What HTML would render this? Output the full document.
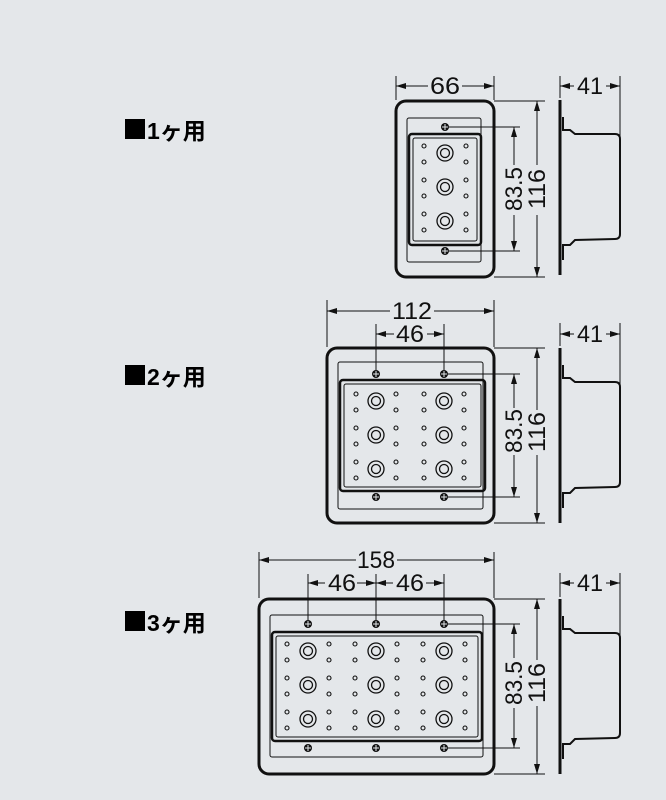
<!DOCTYPE html>
<html><head><meta charset="utf-8"><style>
html,body{margin:0;padding:0;background:#e4e7ea;}
svg{display:block}
.lbl{font-family:"Liberation Sans","Noto Sans CJK JP",sans-serif;font-weight:bold;font-size:23px;fill:#000}
.dim{font-family:"Liberation Sans",sans-serif;font-size:24px;fill:#111}
</style></head><body>
<svg width="666" height="800" viewBox="0 0 666 800" xmlns="http://www.w3.org/2000/svg">
<defs>
<marker id="a" viewBox="0 0 10 6" refX="10" refY="3" markerWidth="10" markerHeight="6" orient="auto-start-reverse" markerUnits="userSpaceOnUse"><path d="M0,0 L10,3 L0,6 z" fill="#111"/></marker>
<g id="boss"><circle r="8" fill="none" stroke="#111" stroke-width="1.3"/><circle r="4.5" fill="none" stroke="#111" stroke-width="1.3"/></g>
<g id="screw"><circle r="4" fill="#111"/><path d="M-3,0h6M0,-3v6" stroke="#e4e7ea" stroke-width="1"/></g>
<circle id="h" r="2" fill="none" stroke="#111" stroke-width="1.1"/>
<g id="hc"><use href="#h" x="0" y="-8"/><use href="#h" x="0" y="8"/></g>
<g id="col"><use href="#hc" y="0"/><use href="#hc" y="34"/><use href="#hc" y="68"/></g>
<g id="bosses"><use href="#boss" y="0"/><use href="#boss" y="34"/><use href="#boss" y="68"/></g>
<g id="side" fill="none" stroke="#111">
<line x1="560" y1="0" x2="560" y2="175" stroke-width="3"/>
<path d="M563,17 L563,30 L570,30 L575,34 L615,34 Q620,34 620,39 L620,134 Q620,139 615,139 L575,140 L570,145 L563,145 L563,160" stroke-width="2"/>
</g>
</defs>
<rect width="666" height="800" fill="#e4e7ea"/>

<rect x="125" y="119" width="20" height="20" fill="#000"/>
<text class="lbl" x="147" y="139">1ヶ用</text>
<rect x="125" y="365" width="20" height="20" fill="#000"/>
<text class="lbl" x="147" y="385">2ヶ用</text>
<rect x="125" y="611" width="20" height="20" fill="#000"/>
<text class="lbl" x="147" y="631">3ヶ用</text>

<g stroke="#111" fill="none">
<rect x="396" y="101" width="98" height="176" rx="10" stroke-width="3"/>
<rect x="407" y="118" width="74" height="144" rx="2" stroke-width="1"/>
<rect x="409" y="134" width="72" height="111" rx="3" stroke-width="2.5"/>
<rect x="413" y="138" width="64" height="103" rx="2" stroke-width="1"/>
<rect x="327" y="348" width="167" height="175" rx="10" stroke-width="3"/>
<rect x="338" y="362" width="145" height="147" rx="2" stroke-width="1"/>
<rect x="340" y="380" width="145" height="111" rx="3" stroke-width="2.5"/>
<rect x="344" y="384" width="137" height="103" rx="2" stroke-width="1"/>
<rect x="259" y="599" width="235" height="175" rx="10" stroke-width="3"/>
<rect x="270" y="615" width="213" height="142" rx="2" stroke-width="1"/>
<rect x="272" y="632" width="210" height="109" rx="3" stroke-width="2.5"/>
<rect x="276" y="636" width="202" height="101" rx="2" stroke-width="1"/>
</g>

<use href="#bosses" x="445" y="153"/>
<use href="#col" x="424" y="154"/><use href="#col" x="466" y="154"/>
<use href="#screw" x="445" y="127"/><use href="#screw" x="445" y="251"/>
<use href="#bosses" x="376" y="401"/><use href="#bosses" x="444" y="401"/>
<use href="#col" x="356" y="402"/><use href="#col" x="396" y="402"/><use href="#col" x="424" y="402"/><use href="#col" x="464" y="402"/>
<use href="#screw" x="376" y="374"/><use href="#screw" x="444" y="374"/><use href="#screw" x="376" y="497"/><use href="#screw" x="444" y="497"/>
<use href="#bosses" x="308" y="651"/><use href="#bosses" x="376" y="651"/><use href="#bosses" x="444" y="651"/>
<use href="#col" x="287" y="652"/><use href="#col" x="329" y="652"/><use href="#col" x="355" y="652"/><use href="#col" x="397" y="652"/><use href="#col" x="423" y="652"/><use href="#col" x="465" y="652"/>
<use href="#screw" x="308" y="624"/><use href="#screw" x="376" y="624"/><use href="#screw" x="444" y="624"/>
<use href="#screw" x="308" y="748"/><use href="#screw" x="376" y="748"/><use href="#screw" x="444" y="748"/>

<use href="#side" y="100"/>
<use href="#side" y="348"/>
<use href="#side" y="599"/>

<g stroke="#111" stroke-width="1" fill="none">
<path d="M396,76V100M494,76V100"/>
<line x1="396" y1="86" x2="428" y2="86" marker-start="url(#a)"/><line x1="462" y1="86" x2="494" y2="86" marker-end="url(#a)"/>
<path d="M560,76V98M620,76V140"/>
<line x1="560" y1="86" x2="574" y2="86" marker-start="url(#a)"/><line x1="606" y1="86" x2="620" y2="86" marker-end="url(#a)"/>
<path d="M449,127H520M449,251H520M494,101H545M494,277H545"/>
<line x1="514" y1="127" x2="514" y2="165" marker-start="url(#a)"/><line x1="514" y1="215" x2="514" y2="251" marker-end="url(#a)"/>
<line x1="537" y1="101" x2="537" y2="165" marker-start="url(#a)"/><line x1="537" y1="215" x2="537" y2="277" marker-end="url(#a)"/>
<path d="M327,300V347M494,300V347M376,324V370M444,324V370"/>
<line x1="327" y1="311" x2="390" y2="311" marker-start="url(#a)"/><line x1="434" y1="311" x2="494" y2="311" marker-end="url(#a)"/>
<line x1="376" y1="334" x2="394" y2="334" marker-start="url(#a)"/><line x1="427" y1="334" x2="444" y2="334" marker-end="url(#a)"/>
<path d="M560,323V346M620,323V386"/>
<line x1="560" y1="334" x2="574" y2="334" marker-start="url(#a)"/><line x1="606" y1="334" x2="620" y2="334" marker-end="url(#a)"/>
<path d="M448,374H520M448,497H520M494,348H545M494,523H545"/>
<line x1="514" y1="374" x2="514" y2="408" marker-start="url(#a)"/><line x1="514" y1="455" x2="514" y2="497" marker-end="url(#a)"/>
<line x1="537" y1="348" x2="537" y2="410" marker-start="url(#a)"/><line x1="537" y1="455" x2="537" y2="523" marker-end="url(#a)"/>
<path d="M259,552V598M494,552V598M308,574V620M376,574V620M444,574V620"/>
<line x1="259" y1="560" x2="356" y2="560" marker-start="url(#a)"/><line x1="397" y1="560" x2="494" y2="560" marker-end="url(#a)"/>
<line x1="308" y1="583" x2="325" y2="583" marker-start="url(#a)"/><line x1="357" y1="583" x2="376" y2="583" marker-end="url(#a)"/>
<line x1="376" y1="583" x2="393" y2="583" marker-start="url(#a)"/><line x1="426" y1="583" x2="444" y2="583" marker-end="url(#a)"/>
<path d="M560,573V597M620,573V636"/>
<line x1="560" y1="583" x2="574" y2="583" marker-start="url(#a)"/><line x1="606" y1="583" x2="620" y2="583" marker-end="url(#a)"/>
<path d="M448,624H520M448,748H520M494,599H545M494,774H545"/>
<line x1="514" y1="624" x2="514" y2="658" marker-start="url(#a)"/><line x1="514" y1="708" x2="514" y2="748" marker-end="url(#a)"/>
<line x1="537" y1="599" x2="537" y2="660" marker-start="url(#a)"/><line x1="537" y1="706" x2="537" y2="774" marker-end="url(#a)"/>
</g>

<g class="dim" text-anchor="middle">
<text x="445" y="94" textLength="30" lengthAdjust="spacingAndGlyphs">66</text>
<text x="590" y="94" textLength="26" lengthAdjust="spacingAndGlyphs">41</text>
<text x="412" y="319" textLength="40" lengthAdjust="spacingAndGlyphs">112</text>
<text x="410" y="342" textLength="28" lengthAdjust="spacingAndGlyphs">46</text>
<text x="590" y="342" textLength="26" lengthAdjust="spacingAndGlyphs">41</text>
<text x="376" y="568" textLength="38" lengthAdjust="spacingAndGlyphs">158</text>
<text x="342" y="591" textLength="28" lengthAdjust="spacingAndGlyphs">46</text>
<text x="410" y="591" textLength="28" lengthAdjust="spacingAndGlyphs">46</text>
<text x="590" y="591" textLength="26" lengthAdjust="spacingAndGlyphs">41</text>
<text transform="translate(522,189) rotate(-90)" textLength="44" lengthAdjust="spacingAndGlyphs">83.5</text>
<text transform="translate(545,189) rotate(-90)" textLength="40" lengthAdjust="spacingAndGlyphs">116</text>
<text transform="translate(522,431) rotate(-90)" textLength="44" lengthAdjust="spacingAndGlyphs">83.5</text>
<text transform="translate(545,432) rotate(-90)" textLength="40" lengthAdjust="spacingAndGlyphs">116</text>
<text transform="translate(522,683) rotate(-90)" textLength="44" lengthAdjust="spacingAndGlyphs">83.5</text>
<text transform="translate(545,683) rotate(-90)" textLength="40" lengthAdjust="spacingAndGlyphs">116</text>
</g>
</svg>
</body></html>
